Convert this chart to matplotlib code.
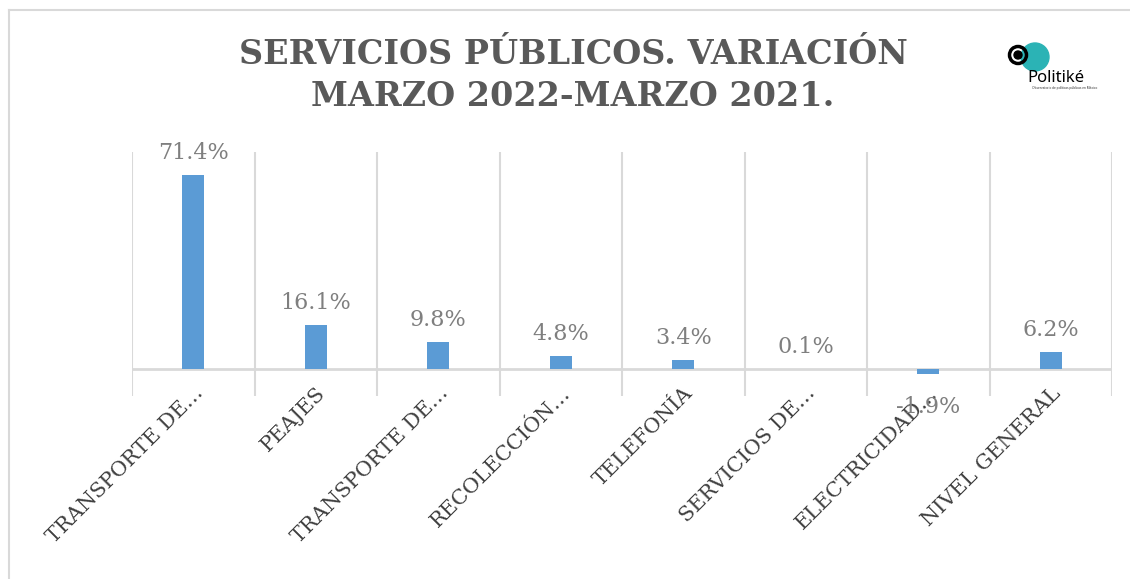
import numpy as np
import matplotlib.pyplot as plt
from matplotlib.patches import Circle

categorias = ['TRANSPORTE DE…', 'PEAJES', 'TRANSPORTE DE…', 'RECOLECCIÓN…',
              'TELEFONÍA', 'SERVICIOS DE…', 'ELECTRICIDAD…', 'NIVEL GENERAL']
variacion = [71.4, 16.1, 9.8, 4.8, 3.4, 0.1, -1.9, 6.2]
titulo = ['SERVICIOS PÚBLICOS. VARIACIÓN', 'MARZO 2022-MARZO 2021.']

serif = ['DejaVu Serif']
gris = '#d9d9d9'

fig = plt.figure(figsize=(11.3, 5.79), dpi=100)
# borde del recuadro (solo izquierda y arriba quedan dentro de la imagen)
fig.add_artist(plt.Line2D([8.5 / 1130, 8.5 / 1130], [0, 1 - 10 / 579],
                          color=gris, linewidth=1.5, transform=fig.transFigure))
fig.add_artist(plt.Line2D([8.5 / 1130, 1], [1 - 10 / 579, 1 - 10 / 579],
                          color=gris, linewidth=1.5, transform=fig.transFigure))

ax = fig.add_axes([132 / 1130, 1 - 396 / 579, 980 / 1130, 244 / 579])
x = np.arange(len(categorias))
ax.bar(x, variacion, width=0.18, color='#5b9bd5', zorder=3)
ax.set_xlim(-0.5, len(categorias) - 0.5)
ax.set_ylim(-10, 80)

for xb in np.arange(-0.5, len(categorias), 1.0):
    ax.axvline(xb, color=gris, linewidth=1.5, zorder=1)
ax.axhline(0, color=gris, linewidth=2, zorder=2)

for xi, v in zip(x, variacion):
    off = 8 if v >= 0 else -16
    ax.annotate(f'{v:.1f}%', (xi, v), xytext=(0, off), textcoords='offset points',
                ha='center', va='bottom' if v >= 0 else 'top',
                fontsize=16, color='#7f7f7f', family=serif, zorder=4)

for s in ax.spines.values():
    s.set_visible(False)
ax.set_yticks([])
ax.set_xticks(x)
ax.set_xticklabels(categorias, rotation=45, ha='right', rotation_mode='anchor',
                   fontsize=15, color='#404040', family=serif)
ax.tick_params(axis='x', length=0, pad=-9)

fig.text(573 / 1130, 1 - 54 / 579, titulo[0], ha='center', va='center',
         fontsize=24, fontweight='bold', color='#595959', family=serif)
fig.text(573 / 1130, 1 - 97 / 579, titulo[1], ha='center', va='center',
         fontsize=24, fontweight='bold', color='#595959', family=serif)

# logo
lg = fig.add_axes([1000 / 1130, 1 - 106 / 579, 112 / 1130, 78 / 579])
lg.set_xlim(0, 112)
lg.set_ylim(0, 78)
lg.axis('off')
lg.add_patch(Circle((35, 49), 14, color='#2bb3b5'))
lg.add_patch(Circle((18, 51), 8.5, fill=False, edgecolor='black', linewidth=2.5))
lg.add_patch(Circle((18, 51), 4, color='black'))
lg.text(27, 28, 'Politiké', fontsize=12, fontweight='bold', family='Noto Sans',
        va='center', ha='left', color='black')
lg.text(65, 18, 'Observatorio de políticas públicas en México', fontsize=2.3,
        family='Noto Sans', va='center', ha='center', color='#333333')

fig.savefig('out.png', dpi=100)
